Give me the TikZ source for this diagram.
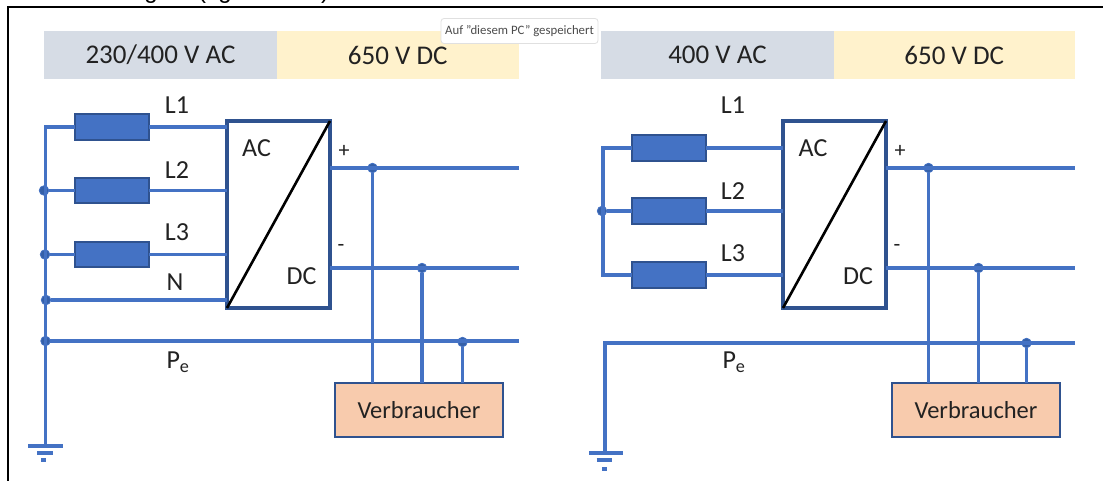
\documentclass[tikz,border=0pt]{standalone}
\usepackage{fontspec}
\setmainfont{Carlito}
\newfontfamily\arialfont{Liberation Sans}
\tikzset{
  wire/.style={draw=wireblue,line width=3.2pt,line cap=butt,line join=miter},
  res/.style={draw=darkblue,fill=wireblue,line width=2pt,minimum width=74pt,minimum height=25.5pt,inner sep=0pt,outer sep=0pt},
  conv/.style={draw=darkblue,fill=white,line width=3.6pt,minimum width=103pt,minimum height=187pt,inner sep=0pt,outer sep=0pt},
  load/.style={draw=darkblue,fill=loadfill,line width=2.4pt,minimum width=168pt,minimum height=54pt,inner sep=0pt,outer sep=0pt,font=\fontsize{24.5}{26}\selectfont,text=textgrey},
  dotn/.style={circle,fill=darkdot,draw=wireblue,line width=.8pt,minimum size=9.5pt,inner sep=0pt,outer sep=0pt},
  lab/.style={inner sep=0pt,font=\fontsize{26}{28}\selectfont,text=textgrey},
  hacg/.style={fill=hgrey,minimum height=48pt,inner sep=0pt,outer sep=0pt,font=\fontsize{27}{29}\selectfont,text=textgrey},
  hdcg/.style={fill=hyellow,minimum height=48pt,inner sep=0pt,outer sep=0pt,font=\fontsize{27}{29}\selectfont,text=textgrey},
  diag/.style={draw=black,line width=2.6pt},
  gnd/.style={draw=wireblue,line width=3.2pt},
  cuttext/.style={anchor=base,inner sep=0pt,font=\arialfont\fontsize{24}{26}\selectfont,text=black},
}
\definecolor{wireblue}{HTML}{4472C4}
\definecolor{darkblue}{HTML}{2F528F}
\definecolor{darkdot}{HTML}{3560A8}
\definecolor{loadfill}{HTML}{F8CBAD}
\definecolor{hgrey}{HTML}{D6DCE5}
\definecolor{hyellow}{HTML}{FFF2CC}
\definecolor{textgrey}{HTML}{222222}
\begin{document}
\begin{tikzpicture}[x=1pt,y=-1pt]
\useasboundingbox (0,0) rectangle (1103,481);
\fill[white] (0,0) rectangle (1103,481);
% clipped line of text above the frame
\begin{scope}
\clip (0,0) rectangle (1103,481);
\node[cuttext] (c1) at (151,-1) {g};
\node[cuttext] (c2) at (202,-1) {(};
\node[cuttext] (c3) at (225,-1) {g};
\node[cuttext] (c4) at (325,-1) {)};
\end{scope}
% frame
\coordinate (fa) at (7.5,482);
\coordinate (fb) at (7.5,7.5);
\coordinate (fc) at (1104,7.5);
\draw[black,line width=2pt] (fa) -- (fb) -- (fc);

% ---------- left panel ----------
\node[hacg,minimum width=233pt] (lh1) at (160.5,55) {230/400 V AC};
\node[hdcg,minimum width=241.5pt] (lh2) at (397.75,55) {650 V DC};
\node[res] (lr1) at (111.5,127) {};
\node[res] (lr2) at (111.5,190.5) {};
\node[res] (lr3) at (111.5,254.5) {};
\node[conv] (lc) at (278.5,214.5) {};
\draw[diag] (lc.south west) -- (lc.north east);
\node[load] (ll) at (419,410) {Verbraucher};
\node[lab] (la1) at (177,105) {L1};
\node[lab] (la2) at (177,170) {L2};
\node[lab] (la3) at (177,232) {L3};
\node[lab] (la4) at (175,282) {N};
\node[lab] (la5) at (178,362) {P\textsubscript{e}};
\node[lab] (la6) at (256.5,148) {AC};
\node[lab] (la7) at (301.5,276) {DC};
\node[lab,font=\fontsize{22}{24}\selectfont] (la8) at (344,151) {+};
\node[lab,font=\fontsize{22}{24}\selectfont] (la9) at (341,248) {-};

\coordinate (lbt) at (45.5,127);
\coordinate (lgnd) at (45.5,446);
\node[dotn] (ld1) at (44,190.5) {};
\node[dotn] (ld2) at (45,254.5) {};
\node[dotn] (ld3) at (46,300) {};
\node[dotn] (ld4) at (45.5,341) {};
\coordinate (lpe) at (518.5,341);
\coordinate (lplus) at (518.5,168);
\coordinate (lminus) at (518.5,268);
\node[dotn] (ldp) at (372.5,168) {};
\node[dotn] (ldm) at (422,268) {};
\node[dotn] (ldg) at (462.5,342) {};
\draw[wire] (lr1.west) -- (lbt) -- (lgnd);
\draw[wire] (ld1) -- (lr2.west);
\draw[wire] (ld2) -- (lr3.west);
\draw[wire] (lr1.east) -- (lr1.east -| lc.west);
\draw[wire] (lr2.east) -- (lr2.east -| lc.west);
\draw[wire] (lr3.east) -- (lr3.east -| lc.west);
\draw[wire] (ld3) -- (ld3 -| lc.west);
\draw[wire] (ld4) -- (lpe);
\draw[wire] (lplus -| lc.east) -- (lplus);
\draw[wire] (lminus -| lc.east) -- (lminus);
\draw[wire] (ldp) -- (ldp |- ll.north);
\draw[wire] (ldm) -- (ldm |- ll.north);
\draw[wire] (ldg) -- (ldg |- ll.north);
\draw[gnd] (28,446) -- (63,446);
\draw[gnd] (37,453) -- (53,453);
\draw[gnd] (41,460) -- (46,460);

% ---------- right panel ----------
\node[hacg,minimum width=233pt] (rh1) at (717.5,55) {400 V AC};
\node[hdcg,minimum width=241.5pt] (rh2) at (954.25,55) {650 V DC};
\node[res] (rr1) at (668.5,148) {};
\node[res] (rr2) at (668.5,211) {};
\node[res] (rr3) at (668.5,275) {};
\node[conv] (rc) at (834.5,214.5) {};
\draw[diag] (rc.south west) -- (rc.north east);
\node[load] (rl) at (976,410) {Verbraucher};
\node[lab] (ra1) at (733,105) {L1};
\node[lab] (ra2) at (733,191) {L2};
\node[lab] (ra3) at (733,253) {L3};
\node[lab] (ra5) at (734,362) {P\textsubscript{e}};
\node[lab] (ra6) at (813,148) {AC};
\node[lab] (ra7) at (858,276) {DC};
\node[lab,font=\fontsize{22}{24}\selectfont] (ra8) at (900,151) {+};
\node[lab,font=\fontsize{22}{24}\selectfont] (ra9) at (897,248) {-};

\coordinate (rbt) at (603,148);
\coordinate (rbb) at (603,275);
\node[dotn] (rd1) at (602,211) {};
\coordinate (rpe0) at (605,343);
\coordinate (rgnd) at (605,453);
\coordinate (rpe) at (1075,343);
\coordinate (rplus) at (1075,168);
\coordinate (rminus) at (1075,268);
\node[dotn] (rdp) at (928.5,168) {};
\node[dotn] (rdm) at (978.5,268) {};
\node[dotn] (rdg) at (1026.5,343) {};
\draw[wire] (rr1.west) -- (rbt) -- (rbb) -- (rr3.west);
\draw[wire] (rd1) -- (rr2.west);
\draw[wire] (rr1.east) -- (rr1.east -| rc.west);
\draw[wire] (rr2.east) -- (rr2.east -| rc.west);
\draw[wire] (rr3.east) -- (rr3.east -| rc.west);
\draw[wire] (rgnd) -- (rpe0) -- (rpe);
\draw[wire] (rplus -| rc.east) -- (rplus);
\draw[wire] (rminus -| rc.east) -- (rminus);
\draw[wire] (rdp) -- (rdp |- rl.north);
\draw[wire] (rdm) -- (rdm |- rl.north);
\draw[wire] (rdg) -- (rdg |- rl.north);
\draw[gnd] (589,453) -- (623,453);
\draw[gnd] (596.5,460) -- (612,460);
\draw[gnd] (602,469) -- (607,469);

% tooltip
\node[draw=black!12,fill=white,rounded corners=3pt,line width=.8pt,minimum width=157pt,minimum height=25pt,inner sep=0pt,text=black!70,font=\fontsize{12.8}{14}\selectfont] (tip) at (519.5,31) {Auf "diesem PC" gespeichert};
\end{tikzpicture}
\end{document}
